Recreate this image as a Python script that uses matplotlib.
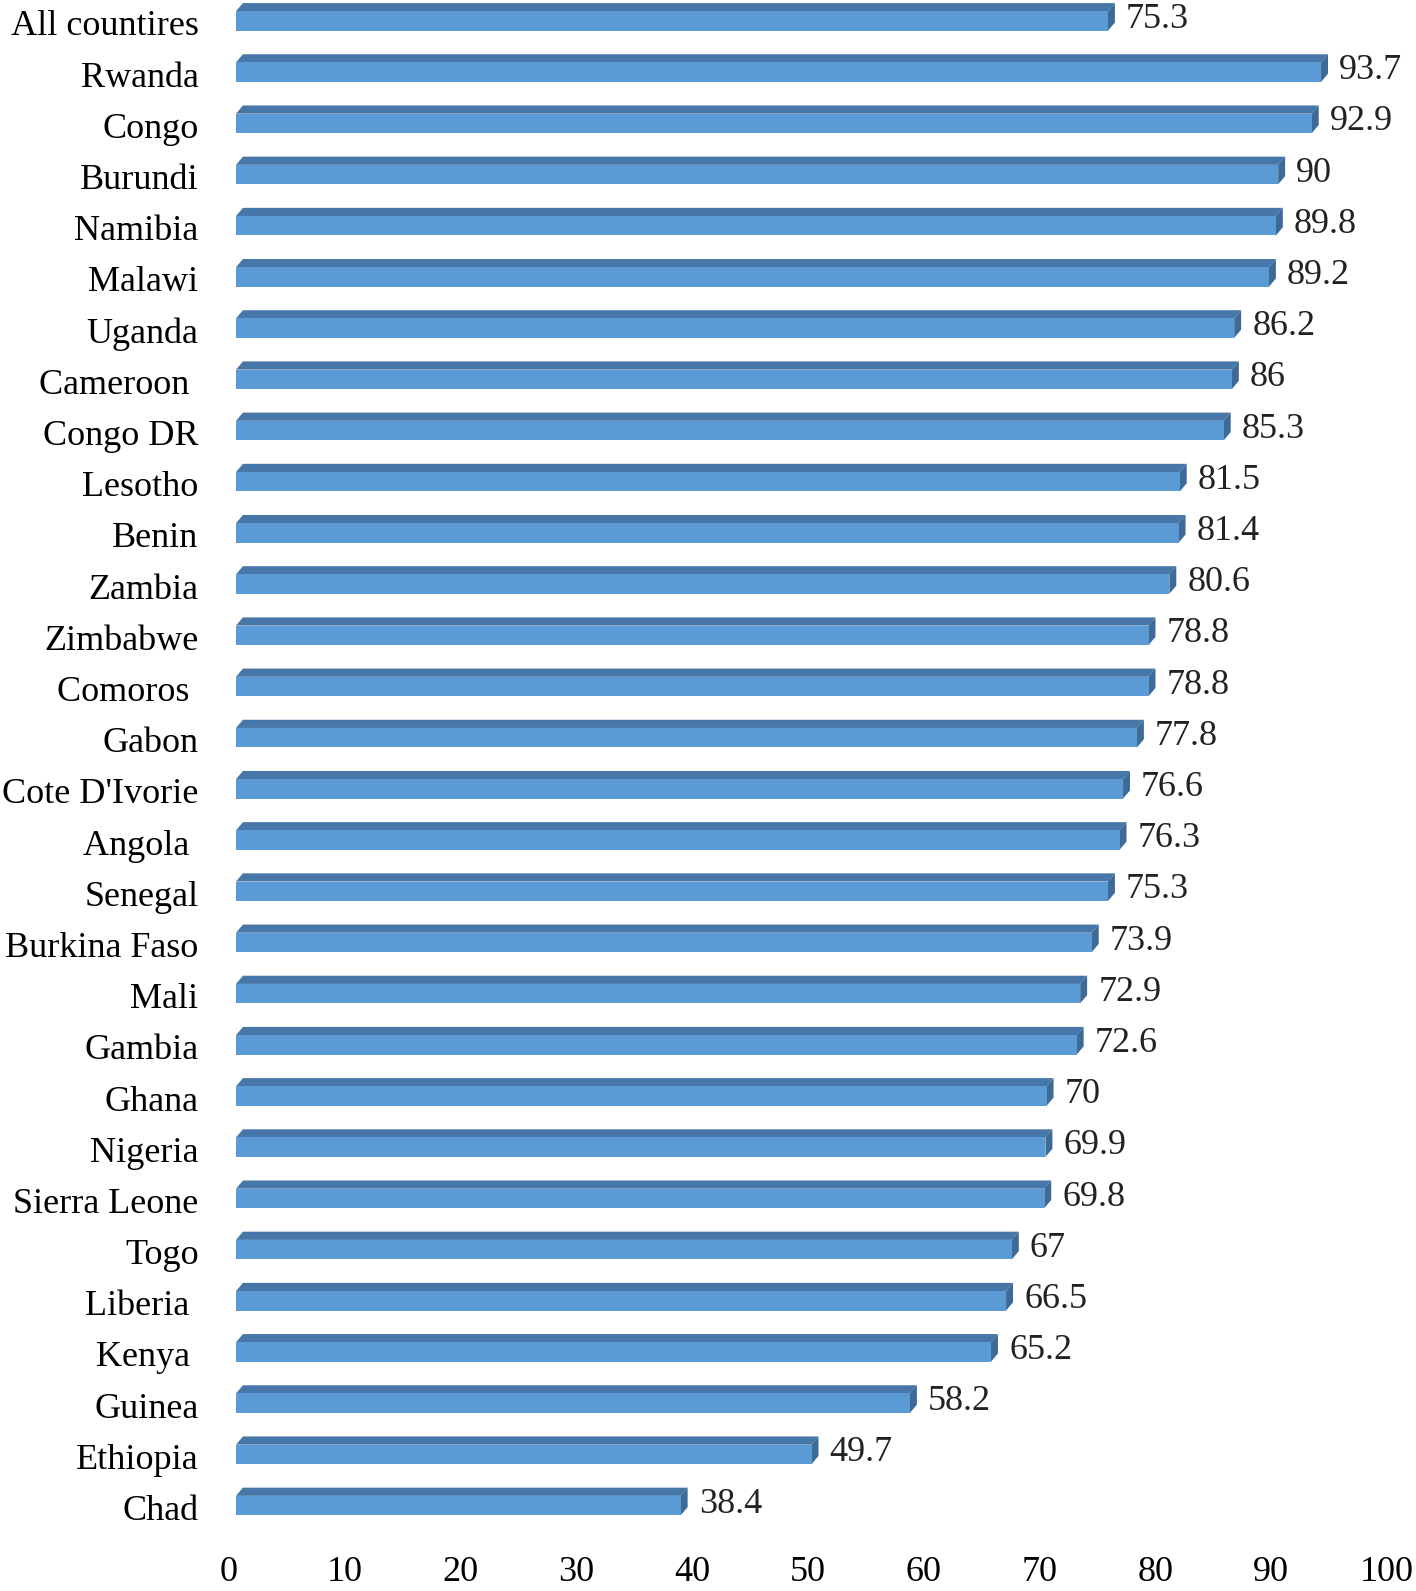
import matplotlib
matplotlib.use("Agg")
import matplotlib.pyplot as plt
from matplotlib.patches import Polygon
from matplotlib.transforms import ScaledTranslation

countries = ["All countires", "Rwanda", "Congo", "Burundi", "Namibia", "Malawi", "Uganda",
             "Cameroon ", "Congo DR", "Lesotho", "Benin", "Zambia", "Zimbabwe", "Comoros ",
             "Gabon", "Cote D'Ivorie", "Angola ", "Senegal", "Burkina Faso", "Mali", "Gambia",
             "Ghana", "Nigeria", "Sierra Leone", "Togo", "Liberia ", "Kenya ", "Guinea",
             "Ethiopia", "Chad"]
values = [75.3, 93.7, 92.9, 90, 89.8, 89.2, 86.2, 86, 85.3, 81.5, 81.4, 80.6, 78.8, 78.8,
          77.8, 76.6, 76.3, 75.3, 73.9, 72.9, 72.6, 70, 69.9, 69.8, 67, 66.5, 65.2, 58.2,
          49.7, 38.4]
value_labels = ["75.3", "93.7", "92.9", "90", "89.8", "89.2", "86.2", "86", "85.3", "81.5",
                "81.4", "80.6", "78.8", "78.8", "77.8", "76.6", "76.3", "75.3", "73.9", "72.9",
                "72.6", "70", "69.9", "69.8", "67", "66.5", "65.2", "58.2", "49.7", "38.4"]
xticks = [0, 10, 20, 30, 40, 50, 60, 70, 80, 90, 100]

plt.rcParams['font.family'] = ['Liberation Serif', 'DejaVu Serif']
W, H = 1416, 1591
fig = plt.figure(figsize=(W / 100, H / 100), dpi=100)
ax = fig.add_axes([236 / W, 1 - 1535 / H, (1394 - 236) / W, 1535 / H])

front = "#5B9BD5"
topc = "#4677A8"
sidec = "#3D6A96"
bh = 0.38      # front face height (category units)
dy = 0.16      # depth offset (category units)
dx = 0.6       # depth offset (data units)

ypos = list(range(len(countries)))
ax.barh(ypos, values, height=bh, color=front, edgecolor="none", zorder=3)
for y, v in zip(ypos, values):
    t = y - bh / 2
    b = y + bh / 2
    ax.add_patch(Polygon([(0, t), (dx, t - dy), (v + dx, t - dy), (v, t)],
                         closed=True, facecolor=topc, edgecolor="none", zorder=2))
    ax.add_patch(Polygon([(v, t), (v + dx, t - dy), (v + dx, b - dy), (v, b)],
                         closed=True, facecolor=sidec, edgecolor="none", zorder=2))

for y, v, lab in zip(ypos, values, value_labels):
    ax.annotate(lab, xy=(v, y), xytext=(13, 1), textcoords="offset points",
                ha="left", va="center", fontsize=26, color="#222222")

ax.set_xlim(0, 100)
ax.set_ylim(29.575, -0.41)
ax.set_yticks(ypos)
ax.set_yticklabels(countries, fontsize=26)
ax.set_xticks(xticks)
ax.set_xticklabels([str(x) for x in xticks], fontsize=26)
ax.tick_params(axis="y", length=0, pad=27)
ax.tick_params(axis="x", length=0, pad=15)
shift = ScaledTranslation(-7 / 100, 0, fig.dpi_scale_trans)
for lbl in ax.get_xticklabels():
    lbl.set_transform(lbl.get_transform() + shift)
for lbl in ax.get_yticklabels():
    lbl.set_transform(lbl.get_transform() + ScaledTranslation(0, -2 / 100, fig.dpi_scale_trans))
for s in ax.spines.values():
    s.set_visible(False)

fig.savefig("out.png", dpi=100)
